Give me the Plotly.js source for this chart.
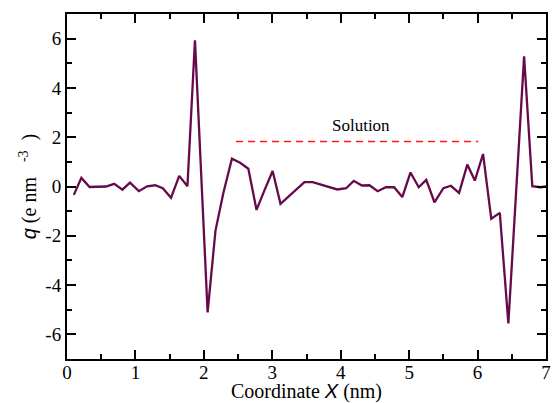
<!DOCTYPE html>
<html>
<head>
<meta charset="utf-8">
<script src="https://cdn.plot.ly/plotly-3.0.1.min.js"></script>
<style>
  html, body { margin: 0; padding: 0; background: #ffffff; }
  #chart { width: 557px; height: 403px; }
  #glyphs { position: absolute; left: -3000px; top: 0; font-family: "Liberation Serif"; font-size: 20px; }
  #glyphs i { font-family: "Liberation Sans"; }
</style>
</head>
<body>
<div id="chart"></div>
<div id="glyphs">0123456789 Coordinate (nm) Solution e <i>Xq</i></div>
<script>
// Charge density profile along the channel coordinate
const coordX = [0.10, 0.21, 0.33, 0.45, 0.57, 0.69, 0.81, 0.92, 1.05, 1.17,
                1.29, 1.40, 1.52, 1.64, 1.76, 1.87, 2.055, 2.17, 2.285, 2.41,
                2.53, 2.65, 2.77, 2.885, 3.005, 3.12, 3.24, 3.355, 3.47, 3.59,
                3.71, 3.83, 3.95, 4.08, 4.19, 4.31, 4.42, 4.54, 4.66, 4.78,
                4.90, 5.02, 5.14, 5.25, 5.37, 5.50, 5.61, 5.73, 5.85, 5.96,
                6.08, 6.20, 6.325, 6.45, 6.68, 6.80, 6.92, 7.03];
const chargeQ = [-0.34, 0.35, -0.02, -0.02, 0.00, 0.11, -0.13, 0.16, -0.19, 0.01,
                 0.05, -0.07, -0.46, 0.43, 0.01, 5.93, -5.11, -1.79, -0.26, 1.13,
                 0.96, 0.72, -0.95, -0.16, 0.63, -0.70, -0.40, -0.11, 0.18, 0.18,
                 0.07, -0.03, -0.12, -0.07, 0.23, 0.04, 0.05, -0.19, -0.03, -0.03,
                 -0.43, 0.57, -0.03, 0.27, -0.64, -0.07, 0.03, -0.26, 0.89, 0.24,
                 1.32, -1.31, -1.07, -5.56, 5.28, 0.01, -0.03, 0.01];

// Bulk solution reference segment
const solutionX = [2.47, 6.01];
const solutionY = [1.83, 1.83];
const solutionLabel = "Solution";
const solutionLabelX = 4.30;
const solutionLabelY = 2.48;

// Tick labels (plain hyphen minus signs)
const xTickVals = [0, 1, 2, 3, 4, 5, 6, 7];
const xTickText = ["0", "1", "2", "3", "4", "5", "6", "7"];
const yTickVals = [-6, -4, -2, 0, 2, 4, 6];
const yTickText = ["-6", "-4", "-2", "0", "2", "4", "6"];

const serif = "Liberation Serif";

const traces = [
  {
    x: coordX, y: chargeQ, type: "scatter", mode: "lines",
    line: { color: "#660a4c", width: 2.3 },
    hoverinfo: "skip", showlegend: false
  },
  {
    x: solutionX, y: solutionY, type: "scatter", mode: "lines",
    line: { color: "#ff1a1a", width: 1.5, dash: "7px,5px" },
    hoverinfo: "skip", showlegend: false
  }
];

const axisCommon = {
  showgrid: false, zeroline: false,
  showline: true, linecolor: "#000", linewidth: 2,
  mirror: "ticks", ticks: "inside", ticklen: 9, tickwidth: 2, tickcolor: "#000",
  tickfont: { family: serif, size: 19, color: "#000" },
  tickmode: "array"
};

const layout = {
  width: 557, height: 403,
  margin: { l: 67, r: 11, t: 14, b: 44 },
  font: { family: serif, color: "#000" },
  showlegend: false,
  xaxis: Object.assign({}, axisCommon, {
    range: [0, 7], tickvals: xTickVals, ticktext: xTickText, ticklabelstandoff: -5,
    minor: { dtick: 0.5, ticks: "inside", ticklen: 5, tickwidth: 2, tickcolor: "#000" },
    title: {
      text: "Coordinate <span style=\"font-family:'Liberation Sans'\"><i>X</i></span> (nm)",
      font: { family: serif, size: 20, color: "#000" }, standoff: 3
    }
  }),
  yaxis: Object.assign({}, axisCommon, {
    range: [-7, 7], tickvals: yTickVals, ticktext: yTickText,
    minor: { dtick: 1, ticks: "inside", ticklen: 5, tickwidth: 2, tickcolor: "#000" },
    title: {
      text: " <span style=\"font-family:'Liberation Sans'\"><i>q</i></span> (e nm   <sup>-3</sup>  )",
      font: { family: serif, size: 20, color: "#000" }, standoff: 3
    }
  }),
  annotations: [
    {
      x: solutionLabelX, y: solutionLabelY, xref: "x", yref: "y",
      text: solutionLabel, showarrow: false,
      font: { family: serif, size: 17, color: "#000" }
    }
  ]
};

const config = { staticPlot: true };
const gd = document.getElementById("chart");
const glyphs = document.getElementById("glyphs");

// lay out the off-screen glyph sample first so both faces are resolved before plotting
void glyphs.offsetWidth;

Plotly.newPlot(gd, traces, layout, config).then(function () {
  // touch the page once the plot is in so it is repainted with the resolved faces
  glyphs.textContent = glyphs.textContent + " ";
});
</script>
</body>
</html>
